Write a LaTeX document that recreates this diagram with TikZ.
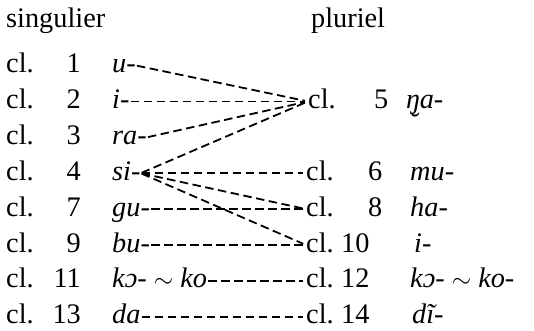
\documentclass[tikz,border=0pt]{standalone}
\usepackage{fontspec}
\setmainfont{Liberation Serif}
\usetikzlibrary{positioning}

\begin{document}
\begin{tikzpicture}[x=1pt, y=-1pt,
    txt/.style={inner sep=0pt, anchor=base west, text height=14pt, text depth=0pt, font=\fontsize{28.3}{33}\selectfont},
    num/.style={txt, anchor=base east},
    pre/.style={txt, font=\fontsize{28.3}{33}\selectfont\itshape},
    link/.style={line width=1.8pt, dash pattern=on 8.5pt off 4.5pt, shorten >=3pt, shorten <=1pt}
]
\useasboundingbox (0,0) rectangle (534,330);

\node[txt] (sg) at (6,27) {singulier};
\node[txt] (pl) at (311,27) {pluriel};

\foreach \n/\y/\p in {1/72.5/u-, 2/108.4/i-, 3/144.3/ra-, 4/180.2/si-, 7/216.1/gu-, 9/252/bu-, 11/287.9/{kɔ- $\sim$ ko}, 13/323.8/da}{
    \node[txt] (cs\n) at (6,\y) {cl.};
    \node[num] (ns\n) at (81,\y) {\n};
    \node[pre] (s\n) at (112,\y) {\p};
}

\node[txt] (p5) at (308,108.4) {cl.};
\node[txt] (np5) at (374,108.4) {5};
\node[pre] (r5) at (406,108.4) {{\ooalign{ŋ\cr\hidewidth\raisebox{-0.85em}{˘}\hidewidth\cr}}a-};
\node[txt] (p6) at (306,180.2) {cl.};
\node[txt] (np6) at (368,180.2) {6};
\node[pre] (r6) at (410,180.2) {mu-};
\node[txt] (p8) at (306,216.1) {cl.};
\node[txt] (np8) at (368,216.1) {8};
\node[pre] (r8) at (410,216.1) {ha-};
\node[txt] (p10) at (306,252) {cl.};
\node[txt] (np10) at (341,252) {10};
\node[pre] (r10) at (414,252) {i-};
\node[txt] (p12) at (306,287.9) {cl.};
\node[txt] (np12) at (341,287.9) {12};
\node[pre] (r12) at (410,287.9) {kɔ- $\sim$ ko-};
\node[txt] (p14) at (306,323.8) {cl.};
\node[txt] (np14) at (341,323.8) {14};
\node[pre] (r14) at (412,323.8) {dĩ-};

\draw[link] (s1.east) -- (p5.west);
\draw[link] (s2.east) -- (p5.west);
\draw[link] (s3.east) -- (p5.west);
\draw[link] (s4.east) -- (p5.west);
\draw[link] (s4.east) -- (p6.west);
\draw[link] (s4.east) -- (p8.west);
\draw[link] (s4.east) -- (p10.west);
\draw[link] (s7.east) -- (p8.west);
\draw[link] (s9.east) -- (p10.west);
\draw[link] (s11.east) -- (p12.west);
\draw[link] (s13.east) -- (p14.west);
\end{tikzpicture}
\end{document}
